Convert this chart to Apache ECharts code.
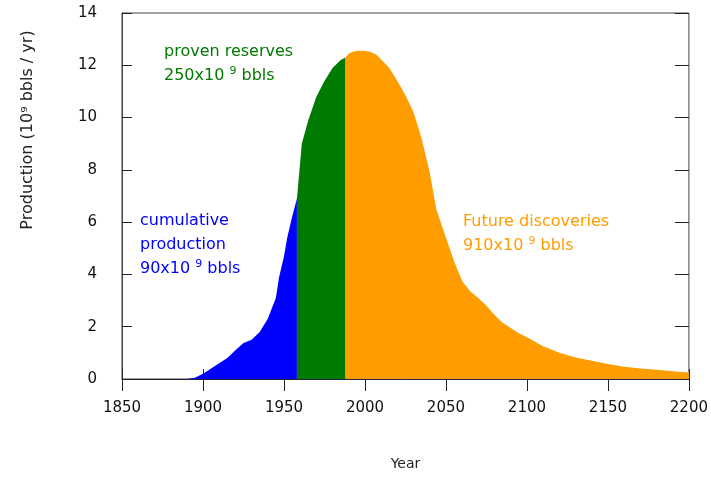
<!DOCTYPE html>
<html>
<head>
<meta charset="utf-8">
<script src="https://cdn.jsdelivr.net/npm/echarts@6/dist/echarts.min.js"></script>
<style>
  html, body { margin: 0; padding: 0; background: #fff; }
  #main { width: 711px; height: 477px; }
</style>
</head>
<body>
<div id="main"></div>
<script>
// 年份与产量（10^9 桶/年）
var years = [1850, 1890, 1895, 1900, 1905, 1910, 1915, 1920, 1925, 1930, 1935, 1940, 1945, 1947, 1950, 1952, 1955, 1958,
  1961, 1965, 1970, 1975, 1980, 1985, 1988,
  1990, 1993, 1996, 2000, 2004, 2007, 2010, 2015, 2020, 2025, 2030, 2035, 2040, 2044, 2050, 2055, 2060, 2065, 2070,
  2075, 2080, 2085, 2090, 2095, 2100, 2110, 2120, 2130, 2140, 2150, 2160, 2170, 2180, 2190, 2200];
var production = [0, 0, 0.05, 0.2, 0.4, 0.6, 0.8, 1.1, 1.38, 1.5, 1.8, 2.3, 3.1, 3.9, 4.7, 5.4, 6.2, 6.9,
  9.0, 9.9, 10.8, 11.4, 11.9, 12.2, 12.3,
  12.45, 12.53, 12.56, 12.56, 12.5, 12.4, 12.22, 11.9, 11.4, 10.85, 10.2, 9.2, 7.9, 6.5, 5.4, 4.5, 3.75, 3.35, 3.1,
  2.8, 2.45, 2.15, 1.95, 1.75, 1.6, 1.25, 1.0, 0.82, 0.7, 0.57, 0.47, 0.4, 0.35, 0.3, 0.25];
// 分段边界：累计产量 / 探明储量 / 未来发现
var splitYears = [1958, 1988];
var segNames = ['cumulative production', 'proven reserves', 'Future discoveries'];
var segColors = ['#0000ff', '#007a00', '#ff9c00'];
var xTicks = { min: 1850, max: 2200, interval: 50 };
var yTicks = { min: 0, max: 14, interval: 2 };

function segment(lo, hi) {
  var out = [];
  for (var i = 0; i < years.length; i++) {
    if (years[i] >= lo && years[i] <= hi) out.push([years[i], production[i]]);
  }
  return out;
}

var bounds = [xTicks.min].concat(splitYears).concat([xTicks.max]);
var series = [];
for (var s = 0; s < 3; s++) {
  series.push({
    name: segNames[s],
    type: 'line',
    data: segment(bounds[s], bounds[s + 1]),
    showSymbol: false,
    lineStyle: { width: 0 },
    areaStyle: { color: segColors[s], opacity: 1 },
    itemStyle: { color: segColors[s] },
    z: 2
  });
}

var font = 'DejaVu Sans';
var chart = echarts.init(document.getElementById('main'));
chart.setOption({
  backgroundColor: '#fff',
  animation: false,
  grid: { left: 122, right: 21, top: 13, bottom: 98, show: true, borderColor: '#444', borderWidth: 1 },
  xAxis: [{
    type: 'value', min: xTicks.min, max: xTicks.max, interval: xTicks.interval,
    name: 'Year', nameLocation: 'middle', nameGap: 78,
    nameTextStyle: { color: '#222', fontSize: 14, fontFamily: font },
    axisLine: { show: true, lineStyle: { color: '#223', width: 1 } },
    axisTick: { show: true, inside: true, length: 10, lineStyle: { color: '#222' } },
    axisLabel: { color: '#111', fontSize: 15, fontFamily: font, margin: 22, formatter: function (v) { return String(v); } },
    splitLine: { show: false }
  }, {
    type: 'value', position: 'top', min: xTicks.min, max: xTicks.max, interval: xTicks.interval,
    axisLine: { show: false },
    axisTick: { show: true, inside: true, length: 12, lineStyle: { color: '#222' } },
    axisLabel: { show: false }, splitLine: { show: false }
  }],
  yAxis: [{
    type: 'value', min: yTicks.min, max: yTicks.max, interval: yTicks.interval,
    axisLine: { show: true, lineStyle: { color: '#444' } },
    axisTick: { show: true, inside: true, length: 10, lineStyle: { color: '#222' } },
    axisLabel: { color: '#111', fontSize: 15, fontFamily: font, margin: 25 },
    splitLine: { show: false }
  }, {
    type: 'value', position: 'right', min: yTicks.min, max: yTicks.max, interval: yTicks.interval,
    axisLine: { show: false },
    axisTick: { show: true, inside: true, length: 14, lineStyle: { color: '#222' } },
    axisLabel: { show: false }, splitLine: { show: false }
  }],
  series: series,
  graphic: [
    {
      type: 'text', x: 28, y: 130, rotation: Math.PI / 2, z: 10,
      style: {
        text: 'Production (10\u2079 bbls / yr)', fill: '#222', fontSize: 16, fontFamily: font,
        align: 'center', verticalAlign: 'middle'
      }
    },
    {
      type: 'text', left: 140, top: 213, z: 10,
      style: {
        text: '{a|cumulative}\n{a|production}\n{a|90x10 }{s|9}{a| bbls}',
        rich: {
          a: { fill: segColors[0], fontSize: 16, fontFamily: font, lineHeight: 24 },
          s: { fill: segColors[0], fontSize: 11, fontFamily: font, padding: [0, 0, 10, 0] }
        }
      }
    },
    {
      type: 'text', left: 164, top: 44, z: 10,
      style: {
        text: '{a|proven reserves}\n{a|250x10 }{s|9}{a| bbls}',
        rich: {
          a: { fill: segColors[1], fontSize: 16, fontFamily: font, lineHeight: 24 },
          s: { fill: segColors[1], fontSize: 11, fontFamily: font, padding: [0, 0, 10, 0] }
        }
      }
    },
    {
      type: 'text', left: 463, top: 214, z: 10,
      style: {
        text: '{a|Future discoveries}\n{a|910x10 }{s|9}{a| bbls}',
        rich: {
          a: { fill: segColors[2], fontSize: 16, fontFamily: font, lineHeight: 24 },
          s: { fill: segColors[2], fontSize: 11, fontFamily: font, padding: [0, 0, 10, 0] }
        }
      }
    }
  ]
});
</script>
</body>
</html>
